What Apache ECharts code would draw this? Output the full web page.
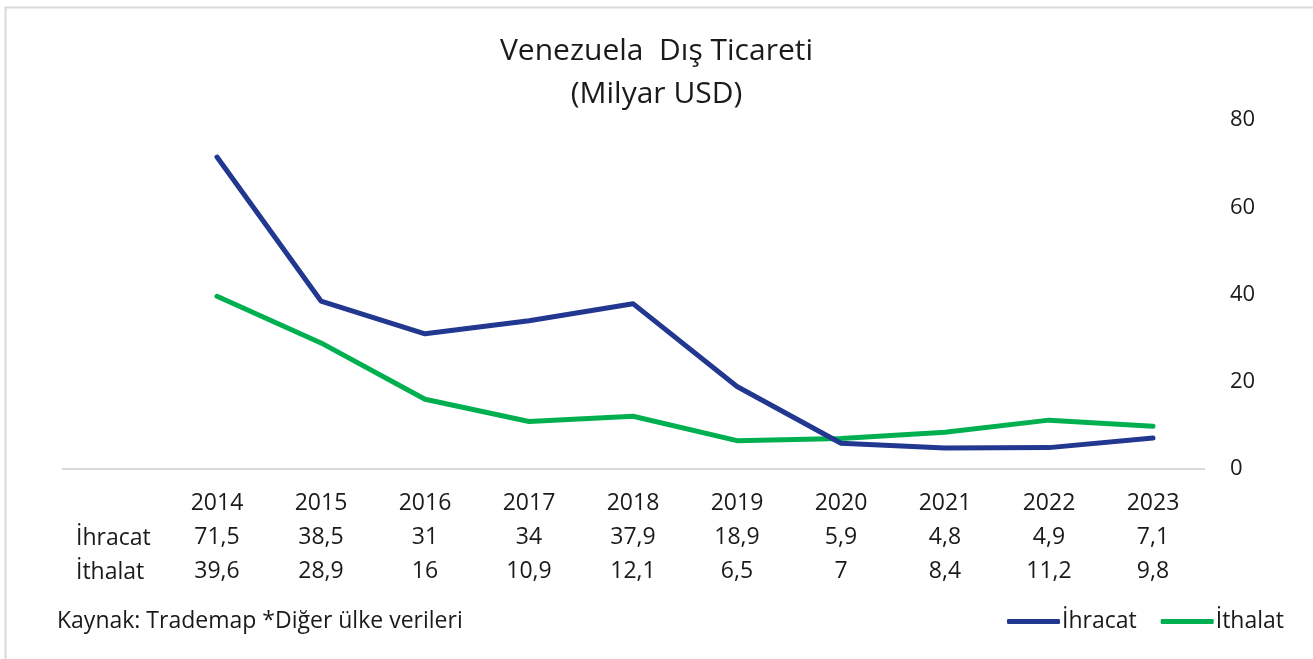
<!DOCTYPE html>
<html>
<head>
<meta charset="utf-8">
<script src="https://cdn.jsdelivr.net/npm/echarts@6/dist/echarts.min.js"></script>
<style>
  html, body { margin: 0; padding: 0; background: #fff; }
  #chart { width: 1313px; height: 659px; }
</style>
</head>
<body>
<div id="chart"></div>
<script>
// veriler
var years = ['2014', '2015', '2016', '2017', '2018', '2019', '2020', '2021', '2022', '2023'];
var ihracat = [71.5, 38.5, 31, 34, 37.9, 18.9, 5.9, 4.8, 4.9, 7.1];
var ithalat = [39.6, 28.9, 16, 10.9, 12.1, 6.5, 7, 8.4, 11.2, 9.8];
var yTicks = [0, 20, 40, 60, 80];

var FONT = '"Open Sans"';
var TEXT = '#1a1a1a';
var FS = 23;

var fmt = function (v) {
    return String(v).replace('.', ',');
};

var myChart = echarts.init(document.getElementById('chart'));

var option = {
    backgroundColor: '#fff',
    animation: false,
    title: {
        text: 'Venezuela  Dış Ticareti\n(Milyar USD)',
        left: 'center',
        top: 25,
        textStyle: {
            fontFamily: FONT,
            fontSize: 30,
            fontWeight: 'normal',
            color: TEXT,
            lineHeight: 43
        }
    },
    grid: {
        left: 165,
        right: 108,
        top: 120,
        bottom: 190
    },
    legend: {
        right: 24,
        top: 605,
        itemWidth: 53,
        itemHeight: 5,
        itemGap: 24,
        icon: 'roundRect',
        textStyle: { fontFamily: FONT, fontSize: FS, color: TEXT, padding: [0, 0, 0, -3] },
        data: ['İhracat', 'İthalat']
    },
    xAxis: {
        type: 'category',
        data: years,
        boundaryGap: true,
        axisLine: { show: false },
        axisTick: { show: false },
        axisLabel: {
            margin: 17,
            interval: 0,
            fontFamily: FONT,
            fontSize: FS,
            color: TEXT,
            lineHeight: 34,
            formatter: function (val, i) {
                return val + '\n' + fmt(ihracat[i]) + '\n' + fmt(ithalat[i]);
            }
        }
    },
    yAxis: {
        type: 'value',
        position: 'right',
        min: yTicks[0],
        max: yTicks[yTicks.length - 1],
        interval: 20,
        splitLine: { show: false },
        axisLine: { show: false },
        axisTick: { show: false },
        axisLabel: {
            margin: 25,
            fontFamily: FONT,
            fontSize: 22,
            color: TEXT
        }
    },
    series: [
        {
            name: 'İhracat',
            type: 'line',
            data: ihracat,
            symbol: 'none',
            lineStyle: { width: 5, color: '#22378f', cap: 'round', join: 'round' },
            itemStyle: { color: '#22378f' },
            z: 3
        },
        {
            name: 'İthalat',
            type: 'line',
            data: ithalat,
            symbol: 'none',
            lineStyle: { width: 5, color: '#00b050', cap: 'round', join: 'round' },
            itemStyle: { color: '#00b050' },
            z: 2
        }
    ]
};

myChart.setOption(option);

// tablo satır başlıkları, kaynak, eksen çizgisi ve çerçeve
var y0 = myChart.convertToPixel({ yAxisIndex: 0 }, 0);
var xEnd = myChart.convertToPixel({ xAxisIndex: 0 }, years.length - 1) + 52;

myChart.setOption({
    graphic: [
        {
            type: 'rect',
            shape: { x: 5.5, y: 7.5, width: 1400, height: 800 },
            style: { fill: 'none', stroke: '#d9d9d9', lineWidth: 2 },
            silent: true
        },
        {
            type: 'line',
            shape: { x1: 62, y1: y0, x2: xEnd, y2: y0 },
            style: { stroke: '#d9d9d9', lineWidth: 2 },
            z: 1
        },
        {
            type: 'text',
            left: 76,
            top: y0 + 68 - 10,
            style: { text: 'İhracat', font: FS + 'px ' + FONT, fill: TEXT }
        },
        {
            type: 'text',
            left: 76,
            top: y0 + 102 - 10,
            style: { text: 'İthalat', font: FS + 'px ' + FONT, fill: TEXT }
        },
        {
            type: 'text',
            left: 57,
            top: 610,
            style: { text: 'Kaynak: Trademap *Diğer ülke verileri', font: FS + 'px ' + FONT, fill: TEXT }
        }
    ]
});

window.onresize = myChart.resize;
</script>
</body>
</html>
